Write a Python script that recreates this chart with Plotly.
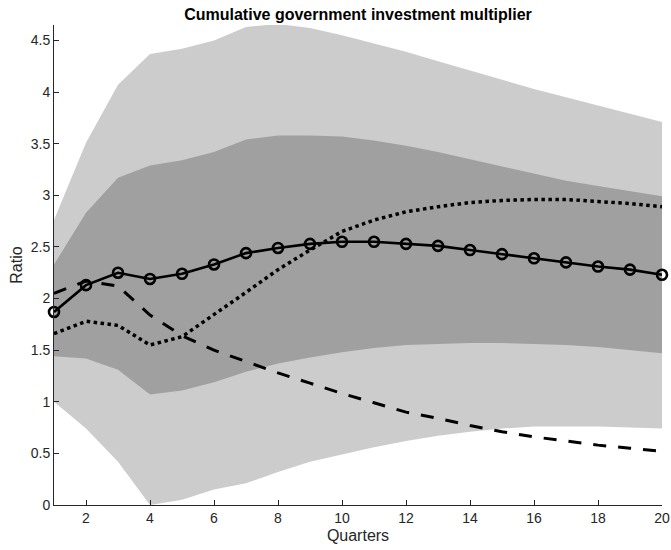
import plotly.graph_objects as go

# Horizon in quarters
quarters = list(range(1, 21))

# Median cumulative multiplier (solid line with circle markers)
median = [1.87, 2.13, 2.25, 2.19, 2.24, 2.33, 2.44, 2.49, 2.53, 2.55,
          2.55, 2.53, 2.51, 2.47, 2.43, 2.39, 2.35, 2.31, 2.28, 2.23]

# Alternative specifications
dashed_series = [2.05, 2.17, 2.12, 1.84, 1.64, 1.50, 1.39, 1.28, 1.18, 1.08,
                 0.99, 0.90, 0.84, 0.77, 0.71, 0.66, 0.62, 0.58, 0.55, 0.52]
dotted_series = [1.66, 1.78, 1.74, 1.55, 1.63, 1.84, 2.06, 2.28, 2.47, 2.65,
                 2.76, 2.84, 2.89, 2.93, 2.95, 2.96, 2.96, 2.94, 2.92, 2.89]

# Confidence bands
inner_upper = [2.33, 2.83, 3.17, 3.29, 3.34, 3.42, 3.54, 3.58, 3.58, 3.57,
               3.53, 3.48, 3.42, 3.35, 3.28, 3.21, 3.14, 3.09, 3.04, 2.99]
inner_lower = [1.44, 1.42, 1.31, 1.07, 1.11, 1.19, 1.29, 1.37, 1.43, 1.48,
               1.52, 1.55, 1.56, 1.57, 1.57, 1.56, 1.55, 1.53, 1.50, 1.47]
outer_upper = [2.76, 3.51, 4.07, 4.37, 4.42, 4.50, 4.63, 4.66, 4.62, 4.55,
               4.47, 4.39, 4.30, 4.21, 4.12, 4.03, 3.95, 3.87, 3.79, 3.71]
outer_lower = [1.00, 0.74, 0.42, 0.00, 0.05, 0.15, 0.21, 0.32, 0.42, 0.49,
               0.56, 0.62, 0.67, 0.71, 0.74, 0.76, 0.76, 0.76, 0.75, 0.74]

x_ticks = list(range(2, 21, 2))
y_ticks = [0, 0.5, 1, 1.5, 2, 2.5, 3, 3.5, 4, 4.5]
y_tick_text = ["0", "0.5", "1", "1.5", "2", "2.5", "3", "3.5", "4", "4.5"]

AXIS_COLOR = "#262626"
FONT = "Liberation Sans, Arial, sans-serif"


def band(upper, lower, color):
    return go.Scatter(
        x=quarters + quarters[::-1],
        y=upper + lower[::-1],
        fill="toself",
        fillcolor=color,
        line=dict(width=0, color=color),
        mode="lines",
        hoverinfo="skip",
        showlegend=False,
    )


fig = go.Figure()
fig.add_trace(band(outer_upper, outer_lower, "#cccccc"))
fig.add_trace(band(inner_upper, inner_lower, "#a0a0a0"))

fig.add_trace(go.Scatter(
    x=quarters, y=dashed_series, mode="lines",
    line=dict(color="black", width=3, dash="13px,12px"),
    showlegend=False,
))
fig.add_trace(go.Scatter(
    x=quarters, y=dotted_series, mode="lines",
    line=dict(color="black", width=3.5, dash="3.5px,3.5px"),
    showlegend=False,
))
fig.add_trace(go.Scatter(
    x=quarters, y=median, mode="lines+markers",
    line=dict(color="black", width=2.6),
    marker=dict(symbol="circle-open", size=10, color="black",
                line=dict(width=2.6, color="black")),
    cliponaxis=False,
    showlegend=False,
))

fig.update_layout(
    width=671, height=550,
    margin=dict(l=54, r=9, t=25, b=45),
    paper_bgcolor="white",
    plot_bgcolor="white",
    font=dict(family=FONT, size=14, color=AXIS_COLOR),
    title=dict(
        text="<b>Cumulative government investment multiplier</b>",
        font=dict(family=FONT, size=16, color="black"),
        x=(54 + 662) / 2 / 671, xanchor="center",
        y=1 - 14 / 550, yanchor="middle",
    ),
)

fig.update_xaxes(
    range=[1, 20],
    tickvals=x_ticks,
    ticks="inside", ticklen=5, tickwidth=1, tickcolor=AXIS_COLOR,
    showline=True, linecolor=AXIS_COLOR, linewidth=1,
    showgrid=False, zeroline=False,
    automargin=False,
    tickfont=dict(size=14, color=AXIS_COLOR),
    title=dict(text="Quarters", font=dict(size=16, color=AXIS_COLOR), standoff=5),
)
fig.update_yaxes(
    range=[0, 4.65],
    tickvals=y_ticks, ticktext=y_tick_text,
    ticks="inside", ticklen=5, tickwidth=1, tickcolor=AXIS_COLOR,
    showline=True, linecolor=AXIS_COLOR, linewidth=1,
    showgrid=False, zeroline=False,
    automargin=False,
    tickfont=dict(size=14, color=AXIS_COLOR),
    title=dict(text="Ratio", font=dict(size=16, color=AXIS_COLOR), standoff=4),
)

fig.write_html("out.html")
